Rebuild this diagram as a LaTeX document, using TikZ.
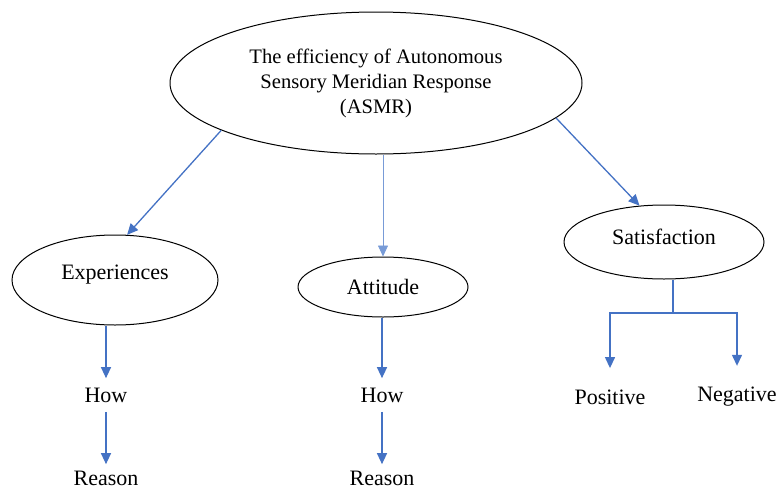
\documentclass[tikz,border=0pt]{standalone}
\usepackage{fontspec}
\setmainfont{Liberation Serif}
\usetikzlibrary{arrows.meta,shapes}
\definecolor{linkblue}{RGB}{68,114,196}
\definecolor{paleblue}{RGB}{120,155,215}

\begin{document}
\begin{tikzpicture}[x=1pt, y=-1pt]
	\tikzstyle{every node} = [font=\fontsize{22}{25}\selectfont]
	\tikzstyle{oval} = [ellipse, draw, line width=1pt, inner sep=0pt]
	\tikzstyle{link} = [draw=linkblue, line width=1.3pt, -{Triangle[width=10pt,length=11pt]}]
	\useasboundingbox (0,0) rectangle (778,490);
	\node[oval, minimum width=412, minimum height=142, align=center,
		font=\fontsize{20.6}{25}\selectfont] (asmr) at (376,83)
		{The efficiency of Autonomous\\Sensory Meridian Response\\(ASMR)};
	\node[oval, minimum width=206, minimum height=90, text depth=15pt] (exp) at (115,280) {Experiences};
	\node[oval, minimum width=170, minimum height=60]  (att) at (383,287) {Attitude};
	\node[oval, minimum width=200, minimum height=74, text depth=10pt] (sat) at (664,242) {Satisfaction};
	\node (how1) at (106,395) {How};
	\node (rsn1) at (106,478) {Reason};
	\node (how2) at (382,395) {How};
	\node (rsn2) at (382,478) {Reason};
	\node (pos)  at (610,397) {Positive};
	\node (neg)  at (737,397) {Negative};
	\coordinate (fork) at (673,313);
	% from the title
	\draw[link] (asmr.197) -- (exp.75);
	\draw[link, draw=paleblue, line width=0.8pt] (asmr.south -| att.north) -- (att.north);
	\draw[link] (asmr.-11) -- (sat.124);
	% experiences
	\draw[link, shorten >=6pt] (exp.south -| how1) -- (how1);
	\draw[link, shorten <=6pt, shorten >=3pt] (how1) -- (rsn1);
	% attitude
	\draw[link, shorten >=6pt] (att.south -| how2) -- (how2);
	\draw[link, shorten <=6pt, shorten >=3pt] (how2) -- (rsn2);
	% satisfaction
	\draw[linkblue, line width=1.3pt] (sat.south -| fork) -- (fork);
	\draw[link, shorten >=18pt] (fork) -| (pos);
	\draw[link, shorten >=18pt] (fork) -| (neg);
\end{tikzpicture}
\end{document}
